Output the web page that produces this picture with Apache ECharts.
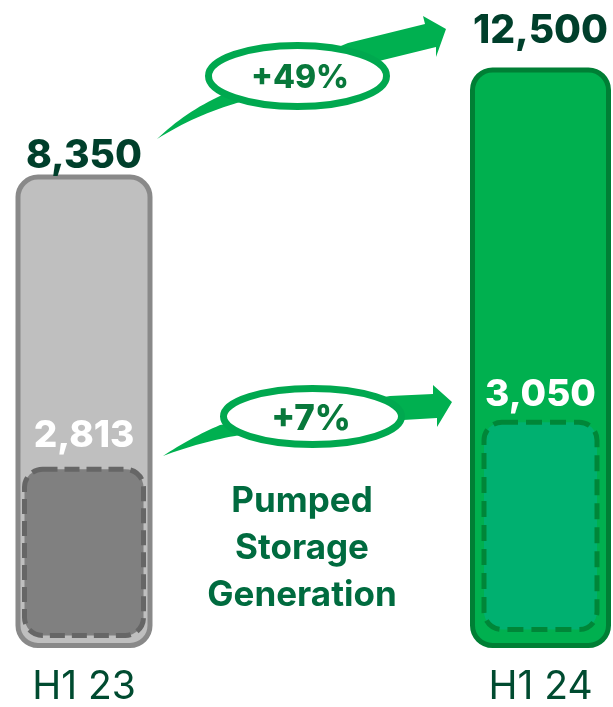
<!DOCTYPE html>
<html>
<head>
<meta charset="utf-8">
<script src="https://cdn.jsdelivr.net/npm/echarts@6/dist/echarts.min.js"></script>
<style>
html,body{margin:0;padding:0;background:#fff;}
#chart{width:613px;height:707px;}
</style>
</head>
<body>
<div id="chart"></div>
<script>
// ---- data ----
const categories = ['H1 23', 'H1 24'];
const totalValues = [8350, 12500];
const pumpedValues = [2813, 3050];
const changeLabels = ['+49%', '+7%'];
const noteLines = ['Pumped', 'Storage', 'Generation'];

// ---- styles (not data) ----
const FONT = 'Inter, Lato, "Noto Sans", sans-serif';
const totalStyle = [
  { width: 132, lineWidth: 5, radius: 20, fill: '#bfbfbf', stroke: '#898989', labelColor: '#003f2b', labelSize: 39, labelGap: 18.5 },
  { width: 136, lineWidth: 5, radius: 20, fill: '#00b04f', stroke: '#007f35', labelColor: '#003f2b', labelSize: 39, labelGap: 36 }
];
const pumpedStyle = [
  { width: 119, lineWidth: 5, radius: 18, inset: 10, fill: '#808080', stroke: '#666666', dash: [15, 7], labelColor: '#ffffff', labelSize: 37, labelGap: 30.5 },
  { width: 113, lineWidth: 5, radius: 18, inset: 16, fill: '#00b070', stroke: '#008638', dash: [16, 8], labelColor: '#ffffff', labelSize: 37, labelGap: 25 }
];

function fmt(v) { return v.toLocaleString('en-US'); }

// decorative arrow outline: quadratic curve segments sampled into a polygon
function quad(p0, c, p1, n) {
  const pts = [];
  for (let k = 0; k <= n; k++) {
    const t = k / n, u = 1 - t;
    pts.push([u * u * p0[0] + 2 * u * t * c[0] + t * t * p1[0], u * u * p0[1] + 2 * u * t * c[1] + t * t * p1[1]]);
  }
  return pts;
}
function arrowShape(tail, upC, upEnd, mid, lowStart, lowC) {
  return [].concat(quad(tail, upC, upEnd, 16), mid, quad(lowStart, lowC, tail, 16));
}

function makeRender(styles, values) {
  return function (params, api) {
    const i = api.value(0);
    const v = api.value(1);
    const st = styles[i];
    const p = api.coord([i, v]);
    const cs = params.coordSys;
    const half = st.lineWidth / 2;
    const bottom = cs.y + cs.height - (st.inset || 0) - half;
    const top = p[1] + half;
    return {
      type: 'group',
      children: [
        {
          type: 'rect',
          shape: { x: p[0] - st.width / 2, y: top, width: st.width, height: bottom - top, r: st.radius },
          style: { fill: st.fill, stroke: st.stroke, lineWidth: st.lineWidth, lineDash: st.dash || null }
        },
        {
          type: 'text',
          x: p[0],
          y: p[1] - st.labelGap,
          style: {
            text: fmt(values[i]),
            fill: st.labelColor,
            font: '800 ' + st.labelSize + 'px ' + FONT,
            align: 'center',
            verticalAlign: 'middle'
          }
        }
      ]
    };
  };
}

const chart = echarts.init(document.getElementById('chart'), null, { renderer: 'canvas' });

const ARROW_FILL = '#00b050';
const ELLIPSE_STROKE = '#00a84f';
const CHANGE_COLOR = '#08783b';

const arrow1 = arrowShape([157, 139], [185, 112], [222, 95],
  [[348, 43], [425, 24], [423, 16], [446, 29], [436, 57], [436, 47], [383, 60]],
  [240, 102], [195, 115]);
const arrow2 = arrowShape([163, 456], [190, 438], [220, 425],
  [[390, 396], [433, 394], [433, 385], [452, 402], [437, 427], [437, 418], [403, 420]],
  [240, 435], [200, 442]);

const option = {
  animation: false,
  backgroundColor: '#ffffff',
  grid: { left: 84, right: 72.5, top: 3, bottom: 57, containLabel: false },
  xAxis: {
    type: 'category',
    data: categories,
    boundaryGap: false,
    axisLine: { show: false },
    axisTick: { show: false },
    splitLine: { show: false },
    axisLabel: { color: '#004b30', fontFamily: FONT, fontSize: 39, margin: 20 }
  },
  yAxis: [
    { type: 'value', min: -10000, max: 15000, show: false, splitLine: { show: false } },
    { type: 'value', min: 1900, max: 5150, show: false, splitLine: { show: false } }
  ],
  graphic: [
    { type: 'polygon', z: 1, shape: { points: arrow1 }, style: { fill: ARROW_FILL } },
    { type: 'ellipse', z: 2, shape: { cx: 297.5, cy: 76, rx: 89, ry: 30.5 }, style: { fill: '#ffffff', stroke: ELLIPSE_STROKE, lineWidth: 7 } },
    { type: 'text', z: 3, x: 300, y: 78, style: { text: changeLabels[0], fill: CHANGE_COLOR, font: '800 32px ' + FONT, align: 'center', verticalAlign: 'middle' } },
    { type: 'polygon', z: 1, shape: { points: arrow2 }, style: { fill: ARROW_FILL } },
    { type: 'ellipse', z: 2, shape: { cx: 312.5, cy: 416.5, rx: 89, ry: 28 }, style: { fill: '#ffffff', stroke: ELLIPSE_STROKE, lineWidth: 7 } },
    { type: 'text', z: 3, x: 311, y: 419, style: { text: changeLabels[1], fill: CHANGE_COLOR, font: '800 35px ' + FONT, align: 'center', verticalAlign: 'middle' } },
    { type: 'text', z: 3, x: 302, y: 478, style: { text: noteLines.join('\n'), fill: '#006b3f', font: 'bold 35px ' + FONT, lineHeight: 47, align: 'center', verticalAlign: 'top' } }
  ],
  series: [
    {
      name: 'Total',
      type: 'custom',
      yAxisIndex: 0,
      z: 2,
      renderItem: makeRender(totalStyle, totalValues),
      data: totalValues.map((v, i) => [i, v]),
      clip: false
    },
    {
      name: 'Pumped Storage Generation',
      type: 'custom',
      yAxisIndex: 1,
      z: 3,
      renderItem: makeRender(pumpedStyle, pumpedValues),
      data: pumpedValues.map((v, i) => [i, v]),
      clip: false
    }
  ]
};
chart.setOption(option);
</script>
</body>
</html>
